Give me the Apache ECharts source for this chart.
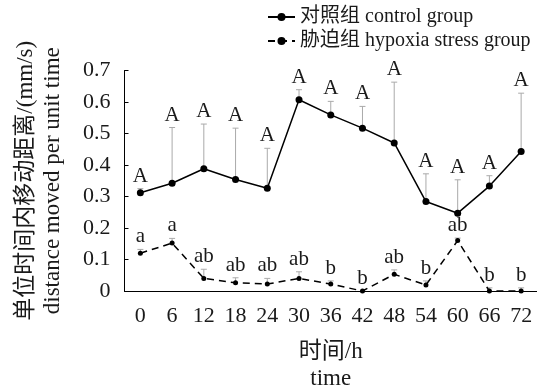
<!DOCTYPE html>
<html>
<head>
<meta charset="utf-8">
<script src="https://cdn.jsdelivr.net/npm/echarts@6/dist/echarts.min.js"></script>
<style>
  html, body { margin: 0; padding: 0; background: #fff; }
  #chart { width: 537px; height: 387px; }
</style>
</head>
<body>
<div id="chart"></div>
<script>
// Sampling times (h)
const hours = ['0', '6', '12', '18', '24', '30', '36', '42', '48', '54', '60', '66', '72'];

// Control group: mean distance moved per unit time (mm/s) and upper SD
const controlMean = [0.312, 0.342, 0.388, 0.354, 0.326, 0.607, 0.559, 0.517, 0.470, 0.284, 0.247, 0.333, 0.443];
const controlSD   = [0.013, 0.177, 0.142, 0.163, 0.127, 0.032, 0.043, 0.069, 0.193, 0.088, 0.106, 0.033, 0.185];
const controlLetters = ['A', 'A', 'A', 'A', 'A', 'A', 'A', 'A', 'A', 'A', 'A', 'A', 'A'];

// Hypoxia stress group
const hypoxiaMean = [0.120, 0.152, 0.040, 0.026, 0.022, 0.040, 0.022, 0.000, 0.053, 0.019, 0.160, 0.000, 0.000];
const hypoxiaSD   = [0.012, 0.015, 0.029, 0.016, 0.018, 0.021, 0.010, 0.000, 0.014, 0.013, 0.008, 0.010, 0.010];
const hypoxiaLetters = ['a', 'a', 'ab', 'ab', 'ab', 'ab', 'b', 'b', 'ab', 'b', 'ab', 'b', 'b'];

// Y axis ticks
const yMin = 0, yMax = 0.7, yStep = 0.1;

const serif = '"Liberation Serif", "Times New Roman", "Noto Sans CJK SC", serif';

// Upper SD whisker with cap, plus the significance letter above it
function errorBars(letters) {
  return function (params, api) {
    const i = api.value(0);
    const m = api.value(1);
    const s = api.value(2);
    const base = api.coord([i, m]);
    const top = api.coord([i, m + s]);
    const children = [];
    if (s > 0) {
      const st = { stroke: '#aaaaaa', lineWidth: 1 };
      children.push({ type: 'line', shape: { x1: base[0], y1: base[1], x2: top[0], y2: top[1] }, style: st });
      children.push({ type: 'line', shape: { x1: top[0] - 3, y1: top[1], x2: top[0] + 3, y2: top[1] }, style: st });
    }
    children.push({
      type: 'text',
      x: top[0],
      y: top[1] - 2,
      style: {
        text: letters[params.dataIndex],
        align: 'center',
        verticalAlign: 'bottom',
        font: '21px ' + serif,
        fill: '#1a1a1a'
      }
    });
    return { type: 'group', children: children };
  };
}

const chart = echarts.init(document.getElementById('chart'), null, { renderer: 'canvas' });

chart.setOption({
  animation: false,
  backgroundColor: '#fff',
  textStyle: { fontFamily: serif, color: '#1a1a1a' },
  grid: { left: 124.5, right: 0, top: 70.5, bottom: 96, outerBoundsMode: 'none', containLabel: false },
  legend: {
    orient: 'vertical',
    left: 262,
    top: 2,
    itemWidth: 27,
    itemHeight: 10,
    itemGap: 4,
    textStyle: { fontFamily: serif, fontSize: 20, color: '#1a1a1a' },
    data: ['对照组 control group', '胁迫组 hypoxia stress group']
  },
  xAxis: {
    type: 'category',
    data: hours,
    boundaryGap: true,
    name: '时间/h\ntime',
    nameLocation: 'middle',
    nameGap: 47,
    nameTextStyle: { fontFamily: serif, fontSize: 23, lineHeight: 27, color: '#1a1a1a' },
    axisLine: { lineStyle: { color: '#000', width: 1 } },
    axisTick: { inside: true, length: 4, interval: 0, lineStyle: { color: '#000' } },
    axisLabel: { interval: 0, margin: 14, fontFamily: serif, fontSize: 22, color: '#1a1a1a' },
    splitLine: { show: false }
  },
  yAxis: {
    type: 'value',
    min: yMin,
    max: yMax,
    interval: yStep,
    name: '单位时间内移动距离/(mm/s)\ndistance moved per unit time',
    nameLocation: 'middle',
    nameRotate: 90,
    nameGap: 58,
    nameTextStyle: { fontFamily: serif, fontSize: 23, lineHeight: 27, color: '#1a1a1a' },
    axisLine: { show: true, lineStyle: { color: '#000', width: 1 } },
    axisTick: { show: true, inside: true, length: 4, lineStyle: { color: '#000' } },
    axisLabel: {
      margin: 14,
      fontFamily: serif,
      fontSize: 22,
      color: '#1a1a1a',
      formatter: function (v) { return v === 0 ? '0' : v.toFixed(1); }
    },
    splitLine: { show: false }
  },
  series: [
    {
      type: 'custom',
      name: 'control-sd',
      z: 1,
      renderItem: errorBars(controlLetters),
      encode: { x: 0, y: 1 },
      data: controlMean.map((m, i) => [i, m, controlSD[i]])
    },
    {
      type: 'custom',
      name: 'hypoxia-sd',
      z: 1,
      renderItem: errorBars(hypoxiaLetters),
      encode: { x: 0, y: 1 },
      data: hypoxiaMean.map((m, i) => [i, m, hypoxiaSD[i]])
    },
    {
      type: 'line',
      name: '对照组 control group',
      z: 3,
      data: controlMean,
      symbol: 'circle',
      symbolSize: 7,
      itemStyle: { color: '#000' },
      lineStyle: { color: '#000', width: 1.5 }
    },
    {
      type: 'line',
      name: '胁迫组 hypoxia stress group',
      z: 3,
      data: hypoxiaMean,
      symbol: 'circle',
      symbolSize: 5,
      itemStyle: { color: '#000' },
      lineStyle: { color: '#000', width: 1.5, type: [7, 5] }
    }
  ]
});
</script>
</body>
</html>
